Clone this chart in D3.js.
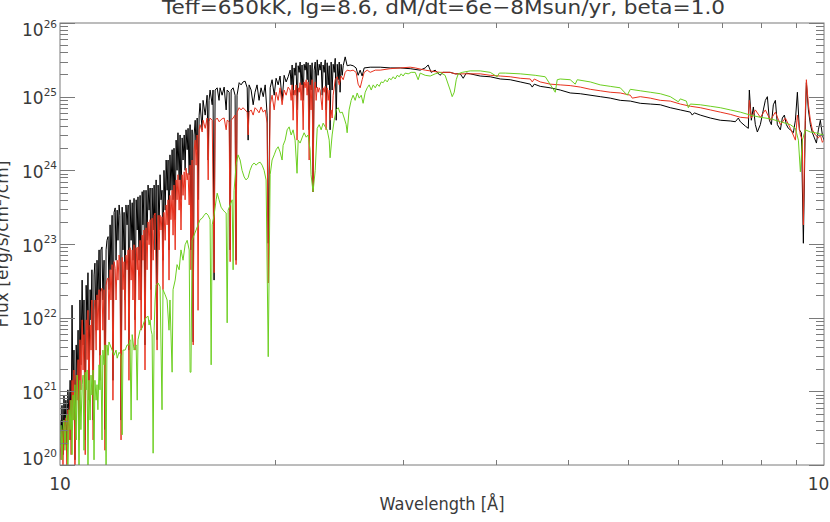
<!DOCTYPE html>
<html>
<head>
<meta charset="utf-8">
<script src="https://cdn.jsdelivr.net/npm/d3@7"></script>
<style>
body { margin: 0; background: #fff; overflow: hidden; }
svg { display: block; }
text { font-family: "DejaVu Sans", sans-serif; fill: #3a3a3a; }
</style>
</head>
<body>
<svg width="830" height="522"></svg>
<script>
// Labels
const titleText = "Teff=650kK, lg=8.6, dM/dt=6e\u22128Msun/yr, beta=1.0";
const xLabel = "Wavelength [\u00c5]";
const xTickLabels = [10, 100];
const xMinorTicks = [19.1, 28.1, 37.2, 46.2, 55.4, 64.4, 73.6, 82.7, 91.9];
const yDecades = [20, 21, 22, 23, 24, 25, 26];

// Spectra: [wavelength in Angstrom, log10 flux]
const specBlack = [
  [10.00,20.61],[10.03,20.27],[10.06,20.81],[10.09,20.14],[10.12,20.95],[10.15,20.48],[10.18,20.88],[10.21,20.27],
  [10.24,21.02],[10.28,20.61],[10.31,21.15],[10.34,20.34],[10.37,22.17],[10.40,20.88],[10.43,21.56],[10.46,20.07],
  [10.50,21.63],[10.53,21.15],[10.56,21.83],[10.59,20.61],[10.62,22.24],[10.65,21.36],[10.69,22.51],[10.72,21.63],
  [10.75,22.24],[10.79,20.34],[10.82,22.44],[10.85,21.83],[10.88,22.61],[10.91,21.15],[10.95,22.38],[10.98,21.97],
  [11.01,22.65],[11.05,20.61],[11.08,22.58],[11.11,22.74],[11.15,21.83],[11.18,22.78],[11.21,22.24],[11.25,22.92],
  [11.28,21.49],[11.31,22.92],[11.35,22.96],[11.38,22.24],[11.42,22.78],[11.45,20.48],[11.49,22.92],[11.52,23.05],
  [11.56,23.10],[11.59,22.38],[11.63,23.26],[11.66,22.65],[11.70,23.39],[11.73,21.15],[11.77,23.43],[11.81,23.49],
  [11.84,22.78],[11.88,23.46],[11.91,23.05],[11.95,23.53],[11.98,23.39],[12.02,20.61],[12.06,23.50],[12.09,22.92],
  [12.13,23.43],[12.17,22.24],[12.20,23.53],[12.24,23.26],[12.28,23.53],[12.31,21.56],[12.35,23.60],[12.39,23.05],
  [12.43,23.56],[12.46,22.78],[12.50,23.62],[12.54,21.97],[12.58,23.60],[12.62,23.19],[12.65,23.64],[12.69,22.78],
  [12.73,23.66],[12.77,22.24],[12.81,23.71],[12.84,23.26],[12.88,23.73],[12.92,21.63],[12.96,23.73],[13.00,23.05],
  [13.04,23.80],[13.08,23.46],[13.12,23.76],[13.16,22.38],[13.20,23.76],[13.24,23.19],[13.28,23.80],[13.32,22.92],
  [13.36,23.87],[13.40,21.70],[13.44,23.80],[13.48,23.19],[13.52,23.94],[13.56,23.60],[13.60,23.73],[13.64,22.78],
  [13.68,24.00],[13.73,23.46],[13.77,24.14],[13.81,23.73],[13.85,24.14],[13.89,22.92],[13.93,24.21],[13.97,23.73],
  [14.02,24.28],[14.06,23.60],[14.10,24.30],[14.15,23.33],[14.19,24.41],[14.23,24.00],[14.27,24.51],[14.32,23.87],
  [14.36,24.48],[14.40,23.60],[14.45,24.44],[14.49,24.14],[14.54,24.48],[14.58,24.00],[14.62,24.55],[14.67,24.28],
  [14.71,24.57],[14.76,23.94],[14.80,24.62],[14.84,22.92],[14.89,24.55],[14.94,21.67],[14.98,24.48],[15.03,24.68],
  [15.07,24.28],[15.12,24.71],[15.16,23.60],[15.21,24.75],[15.25,24.91],[15.35,24.55],[15.39,24.95],[15.49,24.75],
  [15.58,25.02],[15.63,24.14],[15.67,24.95],[15.72,25.09],[15.82,24.89],[15.86,25.09],[15.91,22.51],[15.96,25.09],
  [16.06,25.12],[16.15,24.95],[16.20,25.12],[16.30,25.02],[16.40,25.13],[16.50,24.82],[16.55,25.09],[16.65,25.06],
  [16.70,22.92],[16.75,25.09],[16.85,25.12],[16.95,25.02],[17.00,22.78],[17.05,25.02],[17.16,25.19],[17.26,25.16],
  [17.36,25.20],[17.47,25.21],[17.58,25.12],[17.63,24.41],[17.68,25.16],[17.79,25.09],[17.90,24.89],[18.00,25.06],
  [18.11,25.16],[18.22,24.95],[18.33,25.12],[18.45,25.00],[18.56,25.16],[18.67,24.75],[18.73,23.01],[18.84,25.12],
  [18.95,25.23],[19.07,25.02],[19.18,25.25],[19.30,25.16],[19.41,25.28],[19.53,24.95],[19.65,25.29],[19.77,25.20],
  [19.89,25.27],[20.01,25.36],[20.07,25.16],[20.13,25.43],[20.19,25.02],[20.25,25.39],[20.31,25.29],[20.37,25.46],
  [20.43,24.82],[20.50,25.42],[20.56,25.33],[20.62,25.47],[20.68,25.16],[20.74,25.43],[20.81,24.95],[20.87,25.44],
  [20.93,25.36],[21.00,25.47],[21.06,25.23],[21.12,25.46],[21.19,24.55],[21.25,25.43],[21.31,25.09],[21.38,25.46],
  [21.44,23.71],[21.51,25.36],[21.58,25.47],[21.64,25.12],[21.71,25.50],[21.77,25.29],[21.84,25.44],[21.90,25.36],
  [21.97,25.47],[22.04,25.02],[22.10,25.43],[22.17,25.33],[22.24,25.50],[22.30,24.82],[22.37,25.46],[22.44,25.16],
  [22.51,25.42],[22.57,24.55],[22.64,25.47],[22.71,25.09],[22.78,25.44],[22.85,25.33],[22.92,25.52],[22.99,24.68],
  [23.06,25.44],[23.13,25.23],[23.20,25.47],[23.26,25.06],[23.33,25.44],[23.41,25.29],[23.48,25.42],[23.62,25.54],
  [23.76,25.42],[23.98,25.43],[24.19,25.42],[24.41,25.39],[24.56,25.29],[24.71,25.36],[24.86,25.28],[25.01,25.39],
  [25.47,25.40],[26.25,25.40],[27.05,25.39],[27.88,25.39],[28.73,25.38],[29.61,25.36],[30.06,25.39],[30.33,25.43],
  [30.61,25.33],[30.98,25.36],[31.43,25.29],[31.73,25.33],[32.41,25.33],[32.91,25.31],[33.41,25.31],[33.71,25.25],
  [34.02,25.32],[34.43,25.31],[35.48,25.28],[36.57,25.27],[37.69,25.24],[38.84,25.23],[40.03,25.20],[41.26,25.17],
  [41.51,25.13],[41.76,25.17],[42.52,25.14],[43.82,25.12],[45.16,25.09],[46.54,25.05],[47.97,25.04],[50.95,25.00],
  [52.51,24.98],[54.12,24.95],[55.78,24.94],[57.48,24.91],[59.24,24.90],[61.06,24.89],[62.93,24.85],[64.85,24.82],
  [66.84,24.79],[67.24,24.75],[67.65,24.78],[68.88,24.75],[70.99,24.71],[73.16,24.68],[75.40,24.67],[76.55,24.66],
  [77.25,24.71],[77.71,24.66],[78.90,24.60],[79.61,24.57],[79.85,25.09],[80.33,24.68],[80.82,24.86],[81.31,24.62],
  [81.80,24.52],[82.54,24.62],[83.29,24.82],[83.80,24.95],[84.31,25.00],[84.82,24.68],[85.33,24.62],[85.84,24.89],
  [86.37,24.95],[86.89,24.62],[87.68,24.55],[88.20,24.71],[88.74,24.75],[89.28,24.62],[89.82,24.57],[90.36,24.55],
  [91.18,24.51],[91.74,24.68],[92.29,25.06],[92.85,24.55],[93.41,24.51],[93.97,23.01],[94.54,24.68],[94.83,25.19],
  [95.40,24.82],[95.98,24.62],[96.56,24.51],[97.15,24.44],[97.74,24.37],[98.32,24.55],[98.91,24.68],[99.51,24.48],
  [100.0,24.41]
];

const specRed = [
  [10.00,20.34],[10.03,20.07],[10.06,20.48],[10.09,20.00],[10.12,20.61],[10.15,20.27],[10.18,20.64],[10.21,19.93],
  [10.24,20.75],[10.28,20.34],[10.31,20.88],[10.34,20.14],[10.37,21.15],[10.40,20.61],[10.43,21.29],[10.46,19.80],
  [10.50,21.22],[10.53,20.88],[10.56,21.43],[10.59,20.34],[10.62,21.70],[10.65,21.02],[10.69,21.97],[10.72,21.29],
  [10.75,21.77],[10.79,20.14],[10.82,21.97],[10.85,21.43],[10.88,22.10],[10.91,20.88],[10.95,21.90],[10.98,21.56],
  [11.01,22.24],[11.05,20.34],[11.08,22.10],[11.11,22.24],[11.15,21.56],[11.18,22.31],[11.21,21.83],[11.25,22.38],
  [11.28,21.15],[11.31,22.35],[11.35,22.40],[11.38,21.83],[11.42,22.38],[11.45,20.20],[11.49,22.44],[11.52,22.51],
  [11.56,22.54],[11.59,21.97],[11.63,22.65],[11.66,22.24],[11.70,22.72],[11.73,20.88],[11.77,22.76],[11.81,22.67],
  [11.84,22.24],[11.88,22.78],[11.91,22.51],[11.95,22.85],[11.98,22.76],[12.02,20.34],[12.06,22.82],[12.09,22.38],
  [12.13,22.76],[12.17,21.83],[12.20,22.85],[12.24,22.65],[12.28,22.92],[12.31,21.15],[12.35,22.95],[12.39,22.51],
  [12.43,22.92],[12.46,22.24],[12.50,22.99],[12.54,21.56],[12.58,22.95],[12.62,22.65],[12.65,22.96],[12.69,22.24],
  [12.73,23.05],[12.77,21.83],[12.81,23.12],[12.84,22.78],[12.88,23.19],[12.92,21.29],[12.96,23.22],[13.00,22.65],
  [13.04,23.30],[13.08,22.99],[13.12,23.33],[13.16,21.97],[13.20,23.35],[13.24,22.78],[13.28,23.39],[13.32,23.42],
  [13.36,22.51],[13.40,21.56],[13.44,23.39],[13.48,22.92],[13.52,23.39],[13.56,23.19],[13.60,23.37],[13.64,22.38],
  [13.68,23.43],[13.73,23.05],[13.77,23.53],[13.81,23.26],[13.85,23.60],[13.89,22.51],[13.93,23.66],[13.97,23.33],
  [14.02,23.73],[14.06,23.12],[14.10,23.80],[14.15,22.92],[14.19,23.87],[14.23,23.60],[14.27,23.94],[14.32,23.46],
  [14.36,23.87],[14.40,23.19],[14.45,23.94],[14.49,23.66],[14.54,23.98],[14.58,23.60],[14.62,24.03],[14.67,23.87],
  [14.71,23.96],[14.76,23.53],[14.80,24.07],[14.84,22.65],[14.89,24.14],[14.94,21.63],[14.98,24.28],[15.03,24.41],
  [15.07,24.07],[15.12,24.48],[15.16,22.10],[15.21,24.55],[15.25,24.62],[15.35,24.52],[15.39,24.68],[15.49,24.57],
  [15.58,24.71],[15.63,23.87],[15.67,24.66],[15.72,24.71],[15.82,24.68],[15.91,22.61],[15.96,24.68],[16.06,24.71],
  [16.15,24.66],[16.30,24.70],[16.40,24.71],[16.50,24.55],[16.55,24.68],[16.65,24.66],[16.70,22.76],[16.75,24.68],
  [16.85,24.71],[16.95,24.75],[17.00,22.72],[17.05,24.79],[17.16,24.85],[17.26,24.82],[17.36,24.85],[17.47,24.82],
  [17.58,24.79],[17.63,24.48],[17.68,24.79],[17.79,24.82],[17.90,24.75],[18.00,24.85],[18.11,24.82],[18.22,24.78],
  [18.33,24.86],[18.45,24.79],[18.56,24.82],[18.67,24.64],[18.73,22.47],[18.84,24.89],[18.95,25.02],[19.07,24.82],
  [19.18,25.06],[19.30,24.95],[19.41,25.12],[19.53,24.89],[19.65,25.09],[19.77,25.02],[19.89,25.13],[20.01,25.09],
  [20.07,24.95],[20.13,25.16],[20.19,24.68],[20.25,25.09],[20.31,25.02],[20.37,25.16],[20.43,24.41],[20.50,25.12],
  [20.56,25.06],[20.62,25.19],[20.68,24.95],[20.74,25.16],[20.81,24.55],[20.87,25.20],[20.93,25.12],[21.00,25.23],
  [21.06,25.02],[21.12,25.20],[21.19,24.14],[21.25,25.16],[21.31,24.82],[21.38,25.23],[21.44,23.71],[21.51,25.09],
  [21.58,25.20],[21.64,24.95],[21.71,25.13],[21.77,25.06],[21.84,25.12],[21.90,25.09],[22.04,24.82],[22.10,25.12],
  [22.17,25.06],[22.24,25.14],[22.30,24.55],[22.37,25.12],[22.44,24.95],[22.51,25.09],[22.57,24.68],[22.64,24.82],
  [22.71,24.71],[22.78,25.02],[22.92,25.23],[23.06,25.27],[23.20,25.16],[23.33,25.28],[23.48,25.23],[23.62,25.33],
  [23.76,25.36],[23.98,25.35],[24.19,25.36],[24.41,25.33],[24.56,25.17],[24.71,25.12],[24.86,25.23],[25.01,25.33],
  [25.24,25.36],[25.47,25.33],[25.86,25.36],[26.25,25.36],[27.05,25.38],[27.88,25.39],[28.73,25.40],[29.17,25.39],
  [30.06,25.36],[31.43,25.33],[32.41,25.33],[32.91,25.31],[33.41,25.31],[34.43,25.31],[35.48,25.31],[36.57,25.29],
  [37.69,25.28],[38.84,25.27],[40.03,25.25],[41.26,25.24],[41.51,25.20],[41.76,25.24],[42.52,25.20],[43.82,25.17],
  [45.16,25.16],[46.54,25.15],[47.97,25.13],[49.44,25.10],[50.95,25.08],[52.51,25.06],[54.12,25.05],[55.78,25.02],
  [56.11,24.98],[57.48,25.00],[59.24,24.98],[61.06,24.95],[62.93,24.94],[64.85,24.90],[66.84,24.87],[68.88,24.85],
  [70.99,24.82],[73.16,24.79],[75.40,24.76],[77.71,24.72],[79.61,24.71],[79.85,24.95],[80.33,24.71],[81.31,24.82],
  [82.54,24.72],[83.80,24.82],[85.07,24.68],[86.37,24.79],[87.68,24.62],[89.01,24.71],[90.36,24.57],[91.74,24.41],
  [92.29,24.75],[93.13,24.48],[93.69,24.41],[93.97,23.26],[94.54,24.82],[94.83,25.23],[95.40,24.89],[95.98,24.68],
  [96.56,24.55],[97.44,24.48],[98.32,24.44],[98.91,24.48],[99.51,24.38],[100.0,24.41]
];

const specGreen = [
  [10.00,20.27],[10.03,20.54],[10.06,20.07],[10.09,20.48],[10.12,20.61],[10.15,20.20],[10.18,20.54],[10.21,20.68],
  [10.24,19.93],[10.28,20.75],[10.31,20.48],[10.34,20.88],[10.37,20.14],[10.40,20.95],[10.43,20.61],[10.46,21.09],
  [10.50,20.34],[10.53,21.22],[10.56,20.88],[10.59,19.93],[10.62,21.15],[10.65,20.48],[10.69,21.09],[10.72,21.22],
  [10.75,20.20],[10.79,21.26],[10.82,21.02],[10.85,21.29],[10.88,19.93],[10.91,21.15],[10.95,20.61],[10.98,21.22],
  [11.01,20.95],[11.05,21.29],[11.08,20.07],[11.11,21.15],[11.15,20.88],[11.18,21.09],[11.21,20.75],[11.25,21.36],
  [11.28,21.02],[11.31,21.49],[11.35,20.34],[11.38,21.56],[11.42,21.36],[11.45,21.63],[11.49,19.93],[11.52,21.63],
  [11.56,21.49],[11.59,21.67],[11.63,21.63],[11.70,21.56],[11.77,21.49],[11.84,21.56],[11.88,21.45],[11.95,21.53],
  [12.02,21.49],[12.06,20.41],[12.09,21.56],[12.17,21.56],[12.24,21.63],[12.31,21.63],[12.35,21.70],[12.39,20.61],
  [12.43,21.77],[12.50,21.56],[12.58,21.63],[12.62,20.88],[12.65,21.70],[12.73,21.83],[12.81,21.86],[12.88,21.94],
  [12.96,22.00],[13.04,22.02],[13.08,21.90],[13.12,21.97],[13.16,21.83],[13.20,21.77],[13.24,20.16],[13.28,21.83],
  [13.32,22.24],[13.36,22.44],[13.44,22.47],[13.52,22.42],[13.60,20.75],[13.64,22.38],[13.73,22.31],[13.81,22.24],
  [13.89,21.83],[13.93,22.24],[14.02,21.26],[14.06,22.38],[14.15,22.51],[14.23,22.72],[14.32,22.65],[14.40,22.92],
  [14.49,22.78],[14.58,22.99],[14.67,23.05],[14.76,22.92],[14.80,21.26],[14.84,21.26],[14.89,23.05],[14.98,23.12],
  [15.07,23.19],[15.16,23.26],[15.25,23.33],[15.35,23.35],[15.44,23.39],[15.53,23.42],[15.63,23.39],[15.72,23.33],
  [15.77,21.36],[15.82,23.26],[15.91,23.39],[16.01,23.60],[16.06,23.69],[16.15,23.60],[16.25,23.50],[16.35,23.46],
  [16.45,23.43],[16.50,23.42],[16.55,21.93],[16.60,23.46],[16.70,23.53],[16.80,23.60],[16.85,22.65],[16.90,23.73],
  [17.00,24.07],[17.10,24.21],[17.21,24.14],[17.31,24.00],[17.42,23.91],[17.52,23.87],[17.63,23.90],[17.73,24.00],
  [17.84,24.07],[17.95,24.10],[18.06,24.07],[18.17,24.10],[18.28,24.11],[18.39,24.07],[18.50,24.00],[18.61,23.87],
  [18.73,21.47],[18.84,23.94],[18.95,24.14],[19.07,24.21],[19.18,24.28],[19.30,24.32],[19.41,24.25],[19.53,24.14],
  [19.59,24.34],[19.71,24.41],[19.83,24.55],[19.95,24.59],[20.07,24.48],[20.19,24.55],[20.31,24.41],[20.43,23.96],
  [20.50,24.41],[20.62,24.37],[20.74,24.44],[20.87,24.51],[21.00,24.45],[21.12,24.48],[21.25,24.28],[21.31,23.94],
  [21.44,23.71],[21.58,24.00],[21.71,24.57],[21.84,24.62],[21.97,24.55],[22.10,24.64],[22.24,24.59],[22.37,24.55],
  [22.51,24.41],[22.57,24.17],[22.71,24.48],[22.85,24.68],[22.99,24.82],[23.13,24.85],[23.26,24.78],[23.41,24.79],
  [23.55,24.71],[23.69,24.62],[23.76,24.51],[23.90,24.82],[24.05,24.95],[24.19,25.02],[24.34,24.95],[24.49,25.05],
  [24.64,24.98],[24.79,25.02],[24.93,24.91],[25.09,25.06],[25.24,25.12],[25.39,25.16],[25.55,25.09],[25.70,25.16],
  [25.86,25.12],[26.01,25.17],[26.17,25.14],[26.33,25.20],[26.49,25.19],[26.65,25.23],[26.81,25.20],[26.97,25.25],
  [27.13,25.23],[27.30,25.27],[27.46,25.24],[27.63,25.29],[27.80,25.27],[27.96,25.31],[28.13,25.28],[28.30,25.32],
  [28.56,25.31],[28.82,25.33],[29.17,25.33],[29.43,25.23],[29.61,25.32],[30.06,25.29],[30.52,25.28],[30.98,25.31],
  [31.43,25.33],[31.92,25.29],[32.41,25.09],[32.61,25.00],[32.81,25.06],[33.01,25.23],[33.21,25.31],[33.61,25.33],
  [34.43,25.35],[35.48,25.35],[36.57,25.33],[37.35,25.27],[37.58,25.32],[38.26,25.32],[40.03,25.31],[41.88,25.29],
  [43.17,25.27],[44.49,25.06],[44.75,25.23],[45.16,25.24],[46.54,25.23],[47.25,25.17],[47.54,25.23],[49.44,25.20],
  [50.95,25.16],[52.51,25.14],[54.12,25.12],[55.27,25.02],[55.78,25.10],[57.48,25.08],[59.24,25.06],[61.06,25.04],
  [62.93,25.00],[64.47,24.93],[64.85,24.97],[66.04,24.94],[66.44,24.85],[66.84,24.90],[68.88,24.89],[70.99,24.87],
  [73.16,24.85],[75.40,24.82],[77.71,24.79],[80.09,24.75],[82.54,24.72],[85.07,24.70],[87.68,24.66],[90.36,24.62],
  [91.74,24.57],[92.57,24.41],[93.13,23.98],[93.69,24.41],[94.54,24.55],[95.98,24.52],[97.44,24.51],[98.91,24.49],
  [100.0,24.48]
];

const series = [
  { name: "black", color: "#000000", data: specBlack },
  { name: "red", color: "#e8321e", data: specRed },
  { name: "green", color: "#6ccf20", data: specGreen }
];

// Plot frame
const plotLeft = 60, plotRight = 824, plotTop = 23, plotBottom = 465;
const axisColor = "#7a7a7a";

const x = d3.scaleLog().domain([10, 100]).range([plotLeft, plotRight]);
const y = d3.scaleLog().domain([1e20, 1e26]).range([plotBottom, plotTop]);

const svg = d3.select("svg");

svg.append("clipPath")
    .attr("id", "plot-clip")
    .append("rect")
    .attr("x", plotLeft)
    .attr("y", plotTop)
    .attr("width", plotRight - plotLeft)
    .attr("height", plotBottom - plotTop);

// Spectra
const line = d3.line()
    .x(d => x(d[0]))
    .y(d => y(Math.pow(10, d[1])));

const g = svg.append("g").attr("clip-path", "url(#plot-clip)");
series.forEach(s => {
    g.append("path")
        .datum(s.data)
        .attr("fill", "none")
        .attr("stroke", s.color)
        .attr("stroke-width", 1)
        .attr("stroke-linejoin", "round")
        .attr("d", line);
});

// Frame
svg.append("rect")
    .attr("x", plotLeft)
    .attr("y", plotTop)
    .attr("width", plotRight - plotLeft)
    .attr("height", plotBottom - plotTop)
    .attr("fill", "none")
    .attr("stroke", axisColor)
    .attr("stroke-width", 1);

// X ticks (bottom and top)
const ax = svg.append("g").attr("stroke", axisColor).attr("stroke-width", 1);
xMinorTicks.forEach(v => {
    const px = Math.round(x(v)) + 0.5;
    ax.append("line").attr("x1", px).attr("x2", px).attr("y1", plotBottom).attr("y2", plotBottom - 5);
    ax.append("line").attr("x1", px).attr("x2", px).attr("y1", plotTop).attr("y2", plotTop + 5);
});

// Y ticks (left and right)
yDecades.forEach(e => {
    [1, 2, 3, 4, 5, 6, 7, 8, 9].forEach(k => {
        if (e === 26 && k > 1) return;
        const py = Math.round(y(k * Math.pow(10, e))) + 0.5;
        const len = k === 1 ? 15 : 8;
        ax.append("line").attr("x1", plotLeft).attr("x2", plotLeft + len).attr("y1", py).attr("y2", py);
        ax.append("line").attr("x1", plotRight).attr("x2", plotRight - len).attr("y1", py).attr("y2", py);
    });
});

// Y tick labels
yDecades.forEach(e => {
    const base = Math.min(Math.max(y(Math.pow(10, e)) + 7.5, plotTop + 13), plotBottom);
    const t = svg.append("text")
        .attr("x", 22)
        .attr("y", base)
        .attr("font-size", 17)
        .text("10");
    t.append("tspan")
        .attr("dy", -8.5)
        .attr("font-size", 10.5)
        .text(e);
});

// X tick labels
xTickLabels.forEach(v => {
    svg.append("text")
        .attr("x", x(v))
        .attr("y", 490)
        .attr("text-anchor", "middle")
        .attr("font-size", 17)
        .text(v);
});

// Axis titles
svg.append("text")
    .attr("x", (plotLeft + plotRight) / 2)
    .attr("y", 510)
    .attr("text-anchor", "middle")
    .attr("font-size", 17)
    .attr("textLength", 125)
    .attr("lengthAdjust", "spacingAndGlyphs")
    .text(xLabel);

const yt = svg.append("text")
    .attr("transform", `translate(8,${(plotTop + plotBottom) / 2}) rotate(-90)`)
    .attr("text-anchor", "middle")
    .attr("font-size", 17)
    .text("Flux [erg/s/cm");
yt.append("tspan").attr("dy", -7).attr("font-size", 11).text("2");
yt.append("tspan").attr("dy", 7).text("/cm]");

// Title
svg.append("text")
    .attr("x", 162)
    .attr("y", 14)
    .attr("font-size", 20)
    .attr("textLength", 563)
    .attr("lengthAdjust", "spacingAndGlyphs")
    .text(titleText);
</script>
</body>
</html>
